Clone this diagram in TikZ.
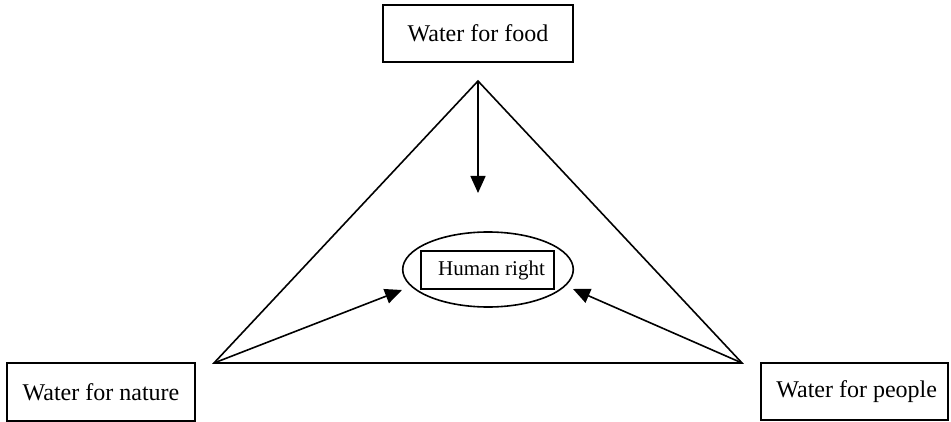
\documentclass[tikz,border=0pt]{standalone}
\usepackage{fontspec}
\setmainfont{Liberation Serif}
\usetikzlibrary{arrows.meta}
\def\RX{42.65pt}
\def\RY{18.75pt}

\begin{document}
\begin{tikzpicture}[x=0.5pt,y=-0.5pt,line width=0.8pt,
  box/.style={draw,inner sep=0pt,font=\fontsize{12}{14}\selectfont},
  flow/.style={-{Triangle[length=8.5pt,width=7.5pt]}}]
  \useasboundingbox (0,0) rectangle (951,422);
  % triangle corners
  \coordinate (A) at (478,81);
  \coordinate (L) at (214,363);
  \coordinate (R) at (742,363);
  % arrow ends
  \coordinate (TA) at (478,193);
  \coordinate (TL) at (402,290);
  \coordinate (TR) at (573,289);
  \coordinate (H) at (488,269.5);
  % boxes
  \node[box,minimum width=95pt,minimum height=28.5pt] (food) at (478,33.7) {Water for food\hspace{6pt}};
  \node[box,minimum width=94pt,minimum height=29pt] (nature) at (101,392) {Water for nature\hspace{4.5pt}};
  \node[box,minimum width=93.5pt,minimum height=28.5pt] (people) at (854.7,391.7) {\hspace{2pt}Water for people};
  % centre
  \draw (H) ellipse [x radius=\RX, y radius=\RY];
  \node[box,minimum width=66.5pt,minimum height=19.25pt,font=\fontsize{10.5}{12}\selectfont] (right) at (487.5,270) {\hspace{4pt}Human right};
  %
  \draw (A) -- (L) -- (R) -- cycle;
  \foreach \from/\to in {A/TA,L/TL,R/TR}
    {
      \draw[flow] (\from) -- (\to);
    }
\end{tikzpicture}
\end{document}
